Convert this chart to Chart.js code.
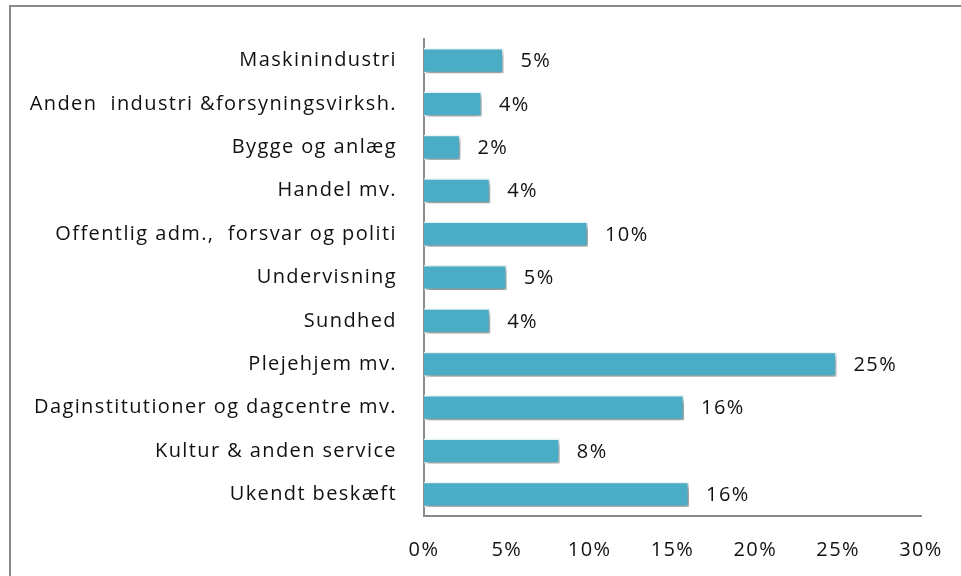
<!DOCTYPE html>
<html>
<head>
<meta charset="utf-8">
<script src="https://cdn.jsdelivr.net/npm/chart.js@4"></script>
<style>
  html, body { margin: 0; padding: 0; background: #fff; overflow: hidden; }
  #ramme { position: absolute; left: 9px; top: 5px; width: 1000px; height: 700px;
           border-left: 2px solid #8a8a8a; border-top: 2px solid #8a8a8a; }
  #graf { position: absolute; left: 0; top: 0; }
</style>
</head>
<body>
<div id="ramme"></div>
<canvas id="graf" width="961" height="576"></canvas>
<script>
// Brancher og andele (%)
const brancher = [
    'Maskinindustri',
    'Anden  industri &forsyningsvirksh.',
    'Bygge og anlæg',
    'Handel mv.',
    'Offentlig adm.,  forsvar og politi',
    'Undervisning',
    'Sundhed',
    'Plejehjem mv.',
    'Daginstitutioner og dagcentre mv.',
    'Kultur & anden service',
    'Ukendt beskæft'
];
const andele = [4.8, 3.5, 2.2, 4.0, 9.9, 5.0, 4.0, 24.9, 15.7, 8.2, 16.0];
const xTicks = [0, 5, 10, 15, 20, 25, 30];

const skrift = "'Open Sans', sans-serif";

// lidt ekstra bogstavafstand som i originalen
const spacingPlugin = {
    id: 'spacing',
    beforeUpdate(chart) {
        chart.ctx.letterSpacing = '1.4px';
    },
    beforeDraw(chart) {
        chart.ctx.letterSpacing = '1.4px';
    }
};

// skygge under søjlerne
const skyggePlugin = {
    id: 'skygge',
    beforeDatasetsDraw(chart) {
        const ctx = chart.ctx;
        ctx.save();
        ctx.shadowColor = 'rgba(0,0,0,0.45)';
        ctx.shadowBlur = 5;
        ctx.shadowOffsetX = 2;
        ctx.shadowOffsetY = 3;
    },
    afterDatasetsDraw(chart) {
        chart.ctx.restore();
    }
};

// procent-etiketter til højre for søjlerne
const etiketPlugin = {
    id: 'etiketter',
    afterDraw(chart) {
        const ctx = chart.ctx;
        const meta = chart.getDatasetMeta(0);
        ctx.save();
        ctx.font = '20px ' + skrift;
        ctx.fillStyle = '#111';
        ctx.textAlign = 'left';
        ctx.textBaseline = 'middle';
        meta.data.forEach((bar, i) => {
            ctx.fillText(Math.round(andele[i]) + '%', bar.x + 17, bar.y + 1);
        });
        ctx.restore();
    }
};

new Chart(document.getElementById('graf'), {
    type: 'bar',
    data: {
        labels: brancher,
        datasets: [{
            data: andele,
            backgroundColor: '#4BACC6',
            borderColor: 'rgba(235,248,252,0.95)',
            borderWidth: 1.5,
            barPercentage: 0.58,
            categoryPercentage: 1
        }]
    },
    options: {
        indexAxis: 'y',
        responsive: false,
        animation: false,
        layout: {
            padding: { left: 0, right: 40, top: 36, bottom: 0 }
        },
        scales: {
            x: {
                min: 0,
                max: 30,
                afterBuildTicks: (scale) => {
                    scale.ticks = xTicks.map(v => ({ value: v }));
                },
                afterFit: (scale) => {
                    scale.height = 60;
                    scale.paddingLeft = 0;
                    scale.paddingRight = 0;
                },
                grid: { display: false, drawTicks: false },
                border: { display: true, color: '#8a8a8a', width: 2 },
                ticks: {
                    padding: 22,
                    color: '#111',
                    font: { size: 20, family: skrift },
                    callback: (v) => v + '%'
                }
            },
            y: {
                afterFit: (scale) => { scale.width = 424; },
                grid: { display: false, drawTicks: false },
                border: { display: true, color: '#8a8a8a', width: 2 },
                ticks: {
                    padding: 27,
                    color: '#111',
                    font: { size: 20, family: skrift }
                }
            }
        },
        plugins: {
            legend: { display: false },
            tooltip: { enabled: false }
        }
    },
    plugins: [spacingPlugin, skyggePlugin, etiketPlugin]
});
</script>
</body>
</html>
